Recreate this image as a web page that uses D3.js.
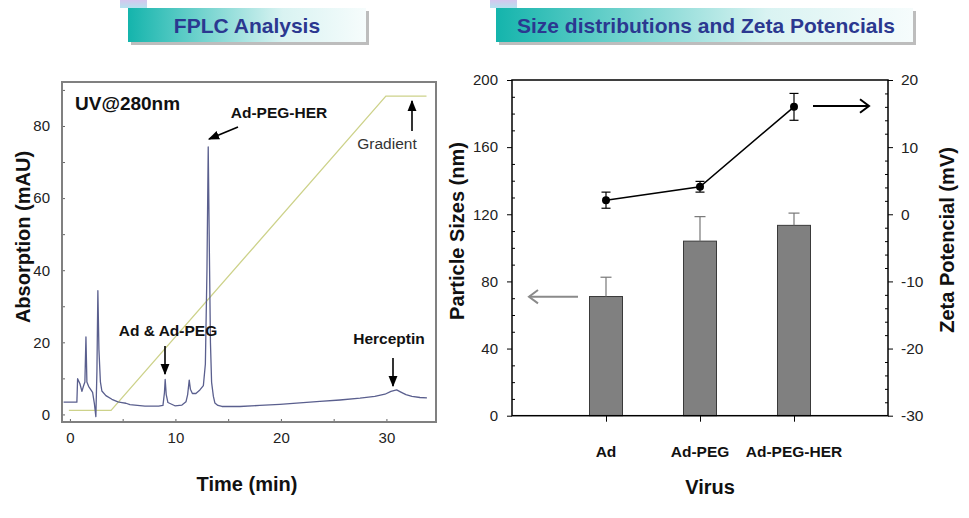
<!DOCTYPE html>
<html><head><meta charset="utf-8">
<script src="https://cdn.jsdelivr.net/npm/d3@7"></script>
<style>
body{margin:0;background:#fff}
text{font-family:Arial,"Liberation Sans",sans-serif}
</style>
</head><body>
<svg id="c" width="969" height="518"></svg>
<script>
// ---------- DATA ----------
// FPLC chromatogram (time in min, absorption in mAU)
const traceTime = [-0.6,0.66,0.73,0.95,1.14,1.28,1.42,1.52,1.61,1.77,2.15,2.32,2.46,2.56,2.65,2.75,2.89,3.03,3.41,3.98,4.55,4.93,5.31,5.69,7.11,8.41,8.82,8.96,9.03,9.13,9.29,9.95,10.62,11.0,11.16,11.31,11.42,11.61,11.94,12.32,12.65,12.84,12.99,13.11,13.22,13.32,13.43,13.6,13.74,14.03,14.41,16.11,18.0,19.9,21.8,23.7,25.6,27.5,28.9,29.86,30.43,30.97,31.37,31.85,32.42,33.18,33.84];
const traceAbs  = [3.4,3.4,9.9,8.5,6.4,7.8,9,21.5,9,7.8,6.1,3.0,-0.6,12,34.3,18,9,6.5,5.2,4.2,3.5,3.3,3.1,2.7,2.3,2.3,2.5,6,9.7,5.5,3.3,2.4,2.6,3.5,5.5,9.5,7,5.8,5.8,6.8,8,14,40,74.2,45,20,8.9,5,3.2,2.5,2.2,2.2,2.5,2.8,3.2,3.6,4.0,4.5,5.0,5.6,6.4,6.8,6.2,5.5,5.0,4.7,4.6];
const gradientTime = [-0.1, 3.9, 29.95, 33.8];
const gradientVal  = [1.1, 1.1, 88.3, 88.3];
const fplcXTicks = [0, 10, 20, 30];
const fplcYTicks = [0, 20, 40, 60, 80];

// Size / zeta
const categories = ["Ad", "Ad-PEG", "Ad-PEG-HER"];
const sizeValues = [71, 104, 113.4];
const sizeErrors = [11.5, 14.6, 7.3];
const zetaValues = [2.1, 4.1, 16.0];
const zetaErrors = [1.2, 0.8, 2.0];
const sizeTicks = [0, 40, 80, 120, 160, 200];
const zetaTicks = [-30, -20, -10, 0, 10, 20];

// ---------- DRAW ----------
const svg = d3.select("#c");
const defs = svg.append("defs");
const plain = d => String(d);

const bg = defs.append("linearGradient").attr("id","ban").attr("x1","0").attr("x2","1").attr("y1","0").attr("y2","0");
bg.append("stop").attr("offset","0%").attr("stop-color","#14b4ac");
bg.append("stop").attr("offset","30%").attr("stop-color","#6fd2cd");
bg.append("stop").attr("offset","65%").attr("stop-color","#d9f3f2");
bg.append("stop").attr("offset","100%").attr("stop-color","#f6fcfc");
const sq = defs.append("linearGradient").attr("id","sq").attr("x1","0").attr("x2","0").attr("y1","0").attr("y2","1");
sq.append("stop").attr("offset","0%").attr("stop-color","#d6c6ee");
sq.append("stop").attr("offset","100%").attr("stop-color","#b6e2ee");

function marker(id, color){
  defs.append("marker").attr("id",id).attr("viewBox","0 0 10 10").attr("refX",9).attr("refY",5)
    .attr("markerWidth",7).attr("markerHeight",7).attr("orient","auto-start-reverse")
    .append("path").attr("d","M0,1 L10,5 L0,9 Z").attr("fill",color);
}
marker("ah","#000");

function banner(x, y, w, h, sqx, label, cx){
  svg.append("rect").attr("x",sqx).attr("y",0).attr("width",27).attr("height",8).attr("fill","url(#sq)");
  svg.append("rect").attr("x",x+3).attr("y",y+3).attr("width",w).attr("height",h).attr("fill","#bdbdbd");
  svg.append("rect").attr("x",x).attr("y",y).attr("width",w).attr("height",h).attr("fill","url(#ban)");
  svg.append("text").attr("x",cx).attr("y",y+h/2).attr("dy","0.36em").attr("text-anchor","middle")
    .attr("font-size",21).attr("font-weight","bold").attr("fill","#2b3890").text(label);
}
banner(128, 8, 238, 34, 120, "FPLC Analysis", 247);
banner(496, 8, 417, 34, 490, "Size distributions and Zeta Potencials", 706);

// ---------- Left chart: FPLC ----------
const xF = d3.scaleLinear().domain([-0.75, 34.7]).range([62, 436]);
const yF = d3.scaleLinear().domain([-2.1, 92.2]).range([422, 82]);

const gL = svg.append("g");
gL.append("g").attr("transform","translate(0,422)")
  .call(d3.axisBottom(xF).tickValues(d3.range(0, 35, 5)).tickSize(-3).tickFormat(""))
  .call(g=>g.select(".domain").remove()).selectAll("line").attr("stroke","#666");
gL.append("g").attr("transform","translate(62,0)")
  .call(d3.axisLeft(yF).tickValues(d3.range(0, 91, 10)).tickSize(-3).tickFormat(""))
  .call(g=>g.select(".domain").remove()).selectAll("line").attr("stroke","#666");
gL.append("g").attr("transform","translate(0,422)")
  .call(d3.axisBottom(xF).tickValues(fplcXTicks).tickSize(0).tickPadding(10).tickFormat(plain))
  .call(g=>g.select(".domain").remove())
  .selectAll("text").attr("font-size",15).attr("fill","#222").attr("font-family","Arial, Liberation Sans, sans-serif");
gL.append("g").attr("transform","translate(62,0)")
  .call(d3.axisLeft(yF).tickValues(fplcYTicks).tickSize(0).tickPadding(12).tickFormat(plain))
  .call(g=>g.select(".domain").remove())
  .selectAll("text").attr("font-size",15).attr("fill","#222").attr("font-family","Arial, Liberation Sans, sans-serif");

gL.append("path").datum(d3.range(gradientTime.length))
  .attr("d", d3.line().x(i=>xF(gradientTime[i])).y(i=>yF(gradientVal[i])))
  .attr("fill","none").attr("stroke","#cdd28a").attr("stroke-width",1.3);
gL.append("path").datum(d3.range(traceTime.length))
  .attr("d", d3.line().x(i=>xF(traceTime[i])).y(i=>yF(traceAbs[i])))
  .attr("fill","none").attr("stroke","#5a5f8e").attr("stroke-width",1.3).attr("stroke-linejoin","round");

gL.append("rect").attr("x",62).attr("y",82).attr("width",374).attr("height",340)
  .attr("fill","none").attr("stroke","#808080").attr("stroke-width",2);

function txt(x,y,s,size,weight,fill,anchor){
  return svg.append("text").attr("x",x).attr("y",y).attr("dy","0.36em").attr("text-anchor",anchor||"middle")
    .attr("font-size",size).attr("font-weight",weight).attr("fill",fill).text(s);
}
function arrow(x1,y1,x2,y2){
  svg.append("line").attr("x1",x1).attr("y1",y1).attr("x2",x2).attr("y2",y2)
    .attr("stroke","#000").attr("stroke-width",1.6).attr("marker-end","url(#ah)");
}
txt(75, 103, "UV@280nm", 19, "bold", "#111", "start");
txt(279, 112, "Ad-PEG-HER", 15.5, "bold", "#111");
arrow(238, 127, 209, 139);
txt(387, 143, "Gradient", 15.5, "normal", "#333");
arrow(412, 131, 412, 101);
txt(168, 330, "Ad & Ad-PEG", 15.5, "bold", "#111");
arrow(165, 346, 165, 374);
txt(389, 338, "Herceptin", 15.5, "bold", "#111");
arrow(393, 358, 393, 386);

txt(247, 484, "Time (min)", 20, "bold", "#111");
svg.append("text").attr("transform","translate(23,237) rotate(-90)").attr("dy","0.36em")
  .attr("text-anchor","middle").attr("font-size",20).attr("font-weight","bold").attr("fill","#111")
  .text("Absorption (mAU)");

// ---------- Right chart ----------
const L = 512, R = 888, T = 80, B = 415.7;
const xC = d3.scalePoint().domain(categories).range([L, R]).padding(1);
const yS = d3.scaleLinear().domain([0, 200]).range([B, T]);
const yZ = d3.scaleLinear().domain([-30, 20]).range([B, T]);
const gR = svg.append("g");

gR.append("g").attr("transform",`translate(${L},0)`)
  .call(d3.axisLeft(yS).tickValues(d3.range(0,201,10).filter(v=>v%40)).tickSize(-3).tickFormat(""))
  .call(g=>g.select(".domain").remove());
gR.append("g").attr("transform",`translate(${L},0)`)
  .call(d3.axisLeft(yS).tickValues(sizeTicks).tickSize(5).tickPadding(9).tickFormat(plain))
  .call(g=>g.select(".domain").remove())
  .selectAll("text").attr("font-size",15).attr("fill","#222").attr("font-family","Arial, Liberation Sans, sans-serif");
gR.append("g").attr("transform",`translate(${R},0)`)
  .call(d3.axisRight(yZ).tickValues(d3.range(-30,21,2).filter(v=>v%10)).tickSize(-3).tickFormat(""))
  .call(g=>g.select(".domain").remove());
gR.append("g").attr("transform",`translate(${R},0)`)
  .call(d3.axisRight(yZ).tickValues(zetaTicks).tickSize(5).tickPadding(8).tickFormat(plain))
  .call(g=>g.select(".domain").remove())
  .selectAll("text").attr("font-size",15.5).attr("fill","#222").attr("font-family","Arial, Liberation Sans, sans-serif");
gR.append("g").attr("transform",`translate(0,${B})`)
  .call(d3.axisBottom(xC).tickSize(6).tickFormat(""))
  .call(g=>g.select(".domain").remove());

gR.selectAll("rect.bar").data(categories).join("rect").attr("class","bar")
  .attr("x",(c)=>xC(c)-16.5).attr("width",33)
  .attr("y",(c,i)=>yS(sizeValues[i])).attr("height",(c,i)=>yS(0)-yS(sizeValues[i]))
  .attr("fill","#808080").attr("stroke","#3a3a3a").attr("stroke-width",1);
categories.forEach((c,i)=>{
  const x = xC(c), y0 = yS(sizeValues[i]), y1 = yS(sizeValues[i]+sizeErrors[i]);
  gR.append("line").attr("x1",x).attr("x2",x).attr("y1",y0).attr("y2",y1).attr("stroke","#777").attr("stroke-width",1.2);
  gR.append("line").attr("x1",x-5.5).attr("x2",x+5.5).attr("y1",y1).attr("y2",y1).attr("stroke","#777").attr("stroke-width",1.2);
});

gR.append("rect").attr("x",L).attr("y",T).attr("width",R-L).attr("height",B-T)
  .attr("fill","none").attr("stroke","#000").attr("stroke-width",1.5);

gR.append("path").datum(d3.range(categories.length))
  .attr("d", d3.line().x(i=>xC(categories[i])).y(i=>yZ(zetaValues[i])))
  .attr("fill","none").attr("stroke","#000").attr("stroke-width",1.5);
categories.forEach((c,i)=>{
  const x = xC(c), ya = yZ(zetaValues[i]+zetaErrors[i]), yb = yZ(zetaValues[i]-zetaErrors[i]);
  gR.append("line").attr("x1",x).attr("x2",x).attr("y1",ya).attr("y2",yb).attr("stroke","#000").attr("stroke-width",1.2);
  [ya,yb].forEach(y=>gR.append("line").attr("x1",x-4.5).attr("x2",x+4.5).attr("y1",y).attr("y2",y).attr("stroke","#000").attr("stroke-width",1.2));
  gR.append("circle").attr("cx",x).attr("cy",yZ(zetaValues[i])).attr("r",4).attr("fill","#000");
});

gR.append("line").attr("x1",578).attr("x2",529).attr("y1",296.7).attr("y2",296.7).attr("stroke","#8a8a8a").attr("stroke-width",2);
gR.append("path").attr("d","M538,290 L529,296.7 L538,303.4").attr("fill","none").attr("stroke","#8a8a8a").attr("stroke-width",2);
gR.append("line").attr("x1",813).attr("x2",869).attr("y1",106).attr("y2",106).attr("stroke","#000").attr("stroke-width",2);
gR.append("path").attr("d","M860,99.3 L869,106 L860,112.7").attr("fill","none").attr("stroke","#000").attr("stroke-width",2);

categories.forEach(c=>txt(xC(c), 451, c, 15.5, "bold", "#111"));
txt(710, 487, "Virus", 20, "bold", "#111");
svg.append("text").attr("transform","translate(457,231) rotate(-90)").attr("dy","0.36em")
  .attr("text-anchor","middle").attr("font-size",20).attr("font-weight","bold").attr("fill","#111")
  .text("Particle Sizes (nm)");
svg.append("text").attr("transform","translate(947,240) rotate(-90)").attr("dy","0.36em")
  .attr("text-anchor","middle").attr("font-size",20).attr("font-weight","bold").attr("fill","#111")
  .text("Zeta Potencial (mV)");
</script>
</body></html>
